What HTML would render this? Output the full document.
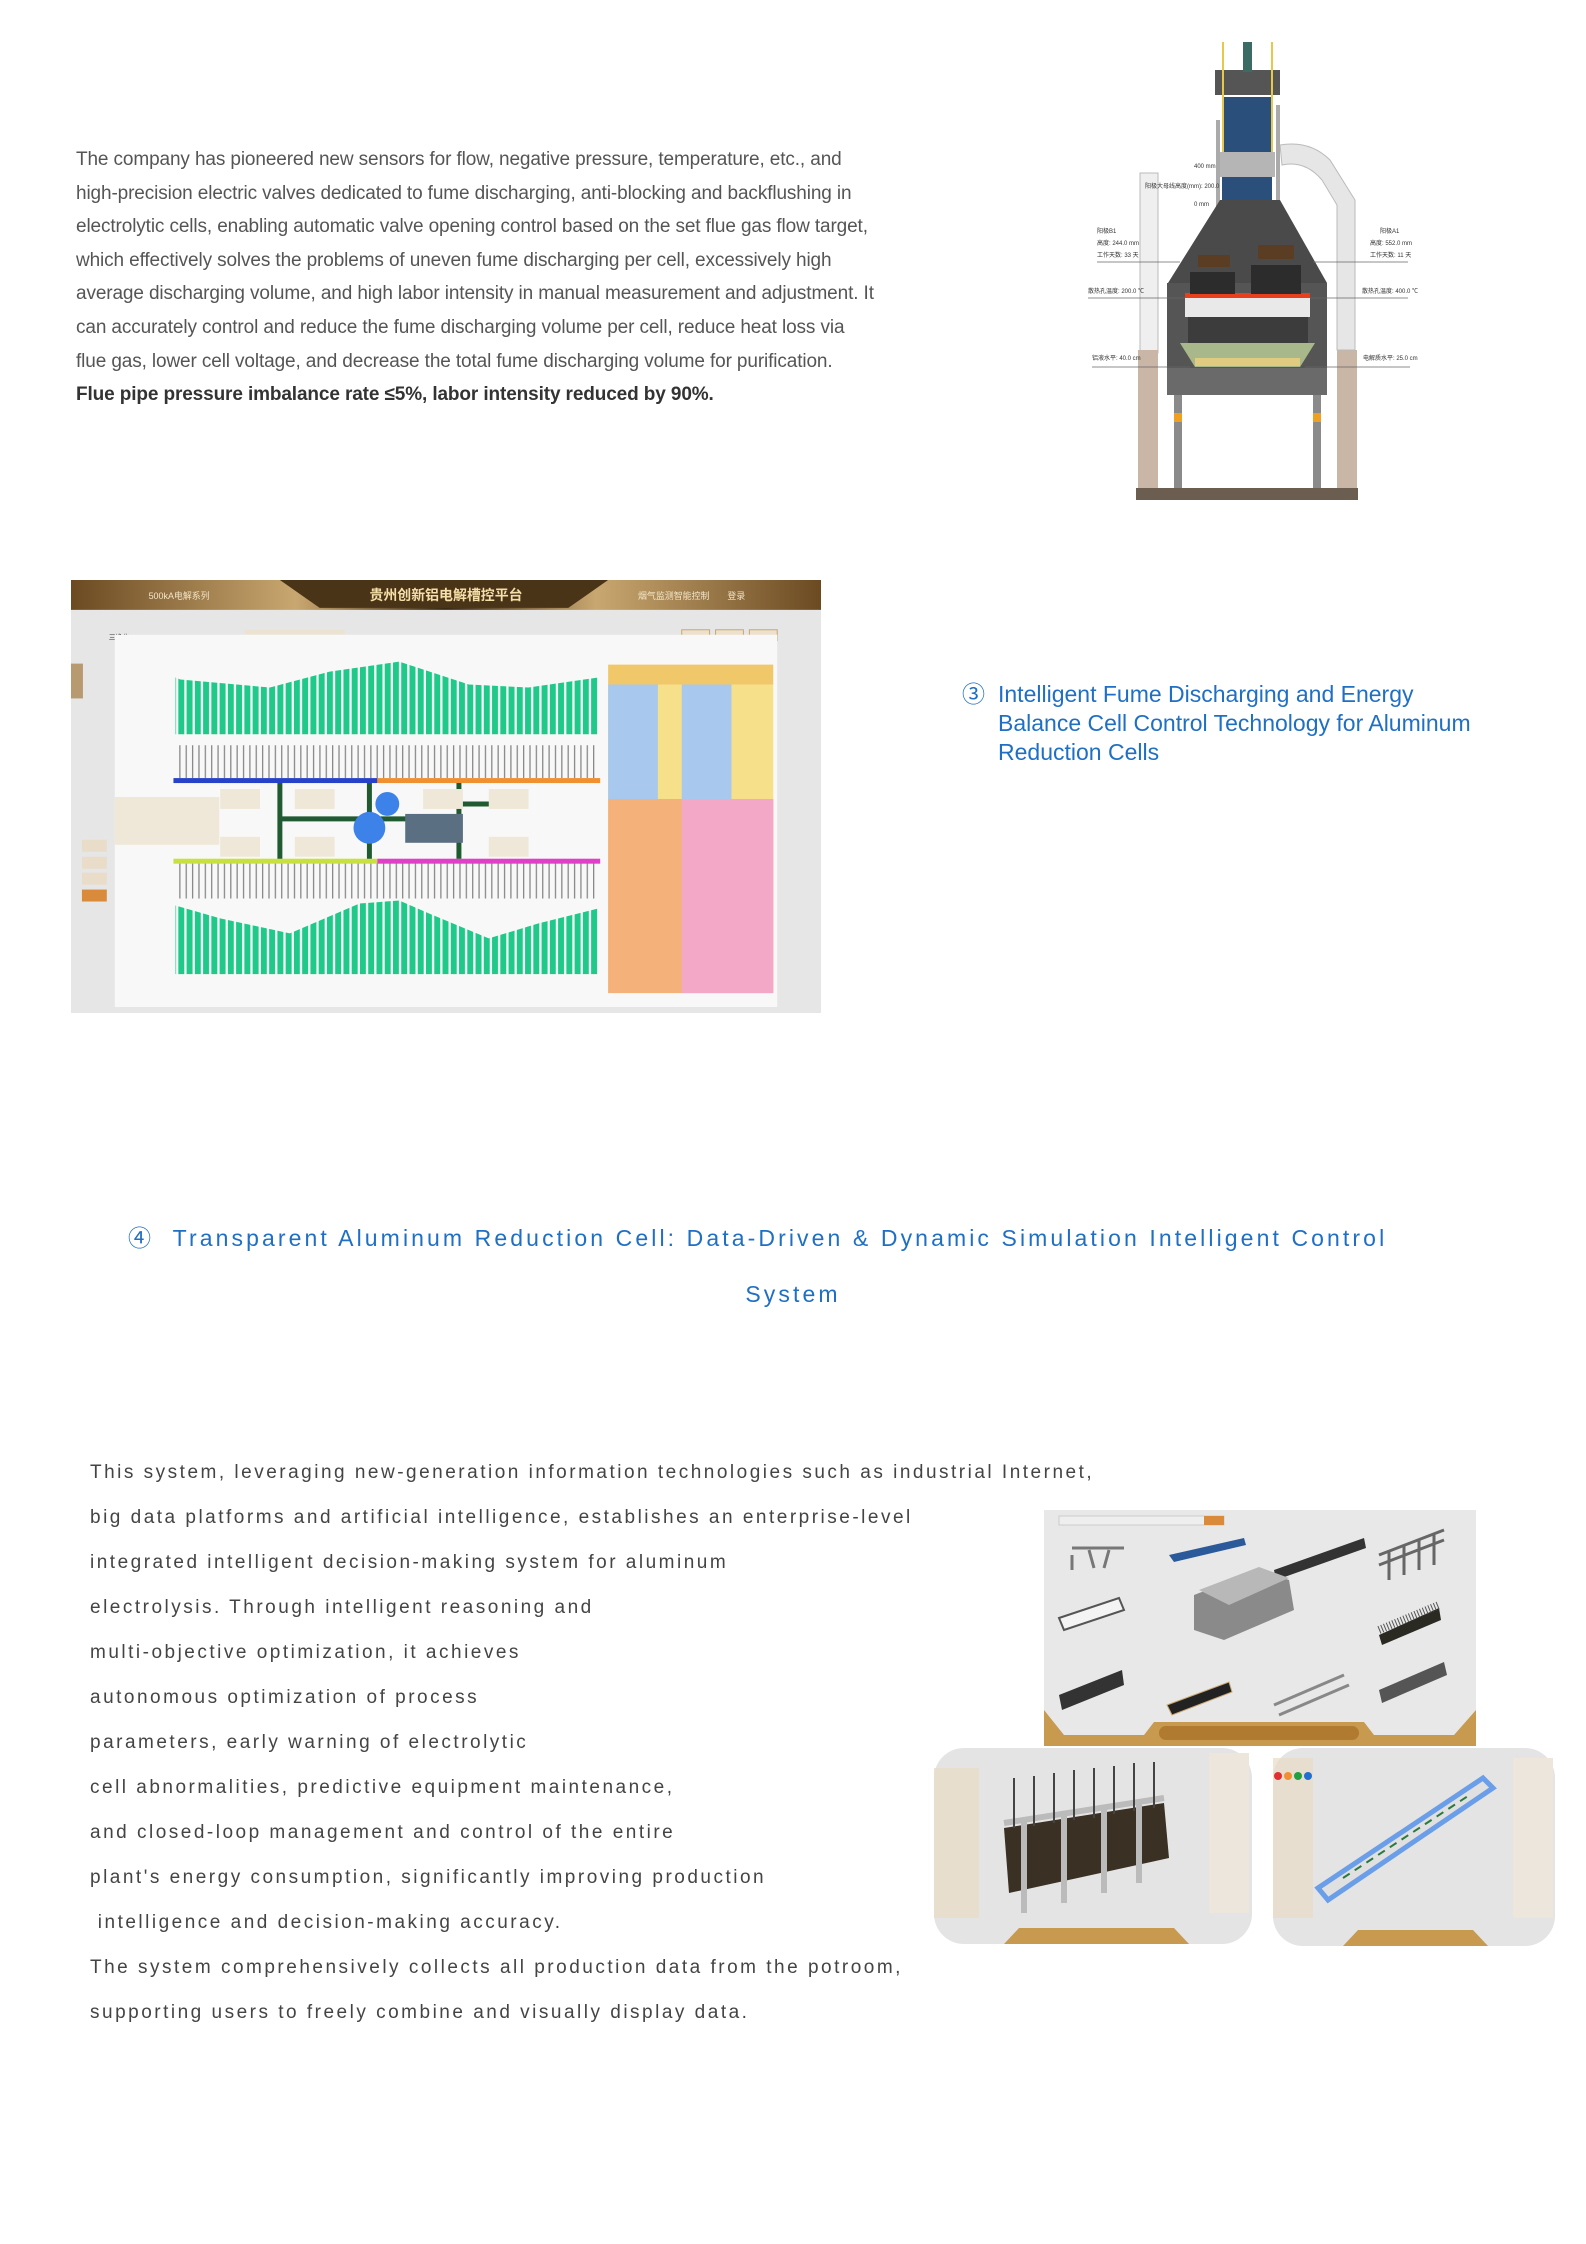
<!DOCTYPE html>
<html><head><meta charset="utf-8"><style>
html,body{margin:0;padding:0;background:#fff;}
body{width:1586px;height:2244px;position:relative;overflow:hidden;font-family:"Liberation Sans","Noto Sans CJK SC",sans-serif;}
.p1{position:absolute;left:76px;top:143px;width:830px;font-size:19px;line-height:33.6px;color:#555;white-space:nowrap;letter-spacing:-0.12px;}
.p1 b{color:#333;}
.h3{position:absolute;left:962px;top:680px;font-size:23px;line-height:29px;color:#1f6fc5;}
.h3 .c{position:absolute;left:0;top:0;}
.h3 .t{margin-left:36px;}
.h4{position:absolute;left:128px;top:1219px;font-size:23px;letter-spacing:3.1px;color:#1f6fc5;white-space:nowrap;}
.h4s{position:absolute;left:0;width:1586px;text-align:center;top:1281px;font-size:23px;letter-spacing:3.1px;color:#1f6fc5;}
.p2{position:absolute;left:90px;top:1450px;font-size:19px;line-height:45px;letter-spacing:2.5px;color:#444;white-space:nowrap;}
</style></head><body>

<div class="p1">The company has pioneered new sensors for flow, negative pressure, temperature, etc., and<br>high-precision electric valves dedicated to fume discharging, anti-blocking and backflushing in<br>electrolytic cells, enabling automatic valve opening control based on the set flue gas flow target,<br>which effectively solves the problems of uneven fume discharging per cell, excessively high<br>average discharging volume, and high labor intensity in manual measurement and adjustment. It<br>can accurately control and reduce the fume discharging volume per cell, reduce heat loss via<br>flue gas, lower cell voltage, and decrease the total fume discharging volume for purification.<br><b>Flue pipe pressure imbalance rate ≤5%, labor intensity reduced by 90%.</b></div>

<svg style="position:absolute;left:0;top:0" width="1586" height="520">
<rect x="1136" y="488" width="222" height="12" fill="#6b5d50"/>
<rect x="1140" y="173" width="18" height="180" fill="#efefef" stroke="#bbb"/>
<rect x="1138" y="350" width="20" height="138" fill="#c9b6a6"/>
<rect x="1337" y="350" width="20" height="138" fill="#c9b6a6"/>
<path d="M1280 145 Q1310 140 1330 160 L1355 200 L1355 350 L1337 350 L1337 205 L1322 180 Q1305 160 1282 165 Z" fill="#e6e6e6" stroke="#bbb"/>
<rect x="1215" y="70" width="65" height="25" fill="#555"/>
<rect x="1222" y="97" width="50" height="105" fill="#2a4f7a"/>
<rect x="1243" y="42" width="9" height="30" fill="#3c6b64"/>
<rect x="1222" y="42" width="2" height="120" fill="#e8c84a"/>
<rect x="1271" y="42" width="2" height="120" fill="#e8c84a"/>
<rect x="1216" y="120" width="4" height="160" fill="#aaa"/>
<rect x="1276" y="105" width="4" height="175" fill="#aaa"/>
<rect x="1220" y="152" width="55" height="25" fill="#b5b5b5"/>
<polygon points="1220,200 1280,200 1327,283 1168,283" fill="#4a4a4a"/>
<rect x="1167" y="283" width="160" height="112" fill="#555"/>
<rect x="1185" y="293" width="125" height="5" fill="#e8401c"/>
<rect x="1185" y="298" width="125" height="19" fill="#e9e9e9"/>
<rect x="1188" y="317" width="120" height="26" fill="#3c3c3c"/>
<polygon points="1180,343 1315,343 1300,367 1195,367" fill="#a9b88a"/>
<rect x="1195" y="358" width="105" height="8" fill="#e0cc80"/>
<rect x="1167" y="368" width="160" height="27" fill="#6a6a6a"/>
<rect x="1190" y="272" width="45" height="22" fill="#2c2c2c"/>
<rect x="1251" y="265" width="50" height="29" fill="#2c2c2c"/>
<rect x="1198" y="255" width="32" height="12" fill="#5a3d22"/>
<rect x="1258" y="245" width="36" height="14" fill="#5a3d22"/>
<rect x="1174" y="395" width="8" height="93" fill="#8a8a8a"/>
<rect x="1313" y="395" width="8" height="93" fill="#8a8a8a"/>
<rect x="1174" y="413" width="8" height="9" fill="#f0a020"/>
<rect x="1313" y="413" width="8" height="9" fill="#f0a020"/>
<g stroke="#666" stroke-width="0.8">
<line x1="1097" y1="262" x2="1180" y2="262"/><line x1="1313" y1="262" x2="1408" y2="262"/>
<line x1="1088" y1="298" x2="1185" y2="298"/><line x1="1310" y1="298" x2="1408" y2="298"/>
<line x1="1092" y1="367" x2="1190" y2="367"/><line x1="1305" y1="367" x2="1410" y2="367"/>
</g>
<g font-size="6" fill="#333">
<text x="1097" y="233">阳极B1</text><text x="1097" y="245">高度: 244.0 mm</text><text x="1097" y="257">工作天数: 33 天</text>
<text x="1380" y="233">阳极A1</text><text x="1370" y="245">高度: 552.0 mm</text><text x="1370" y="257">工作天数: 11 天</text>
<text x="1088" y="293">散热孔温度: 200.0 ℃</text><text x="1362" y="293">散热孔温度: 400.0 ℃</text>
<text x="1092" y="360">铝液水平: 40.0 cm</text><text x="1363" y="360">电解质水平: 25.0 cm</text>
<text x="1145" y="188">阳极大母线高度(mm): 200.0</text><text x="1194" y="168">400 mm</text><text x="1194" y="206">0 mm</text>
</g>
</svg>

<svg style="position:absolute;left:71px;top:580px" width="750" height="433" viewBox="0 0 754 435" preserveAspectRatio="none">
<defs>
<linearGradient id="gh" x1="0" x2="1"><stop offset="0" stop-color="#6b4a22"/><stop offset=".3" stop-color="#c9a770"/><stop offset=".5" stop-color="#3b2a14"/><stop offset=".7" stop-color="#c9a770"/><stop offset="1" stop-color="#6b4a22"/></linearGradient>
<pattern id="bars" width="8.3" height="10" patternUnits="userSpaceOnUse"><rect width="6" height="10" fill="#1ec98a"/></pattern>
<pattern id="vl" width="6.4" height="10" patternUnits="userSpaceOnUse"><rect width="1.3" height="10" fill="#888"/></pattern>
</defs>
<rect width="754" height="435" fill="#e6e6e6"/>
<rect width="754" height="30" fill="url(#gh)"/>
<path d="M210 0 L250 28 L500 28 L540 0 Z" fill="#4a3418"/>
<text x="377" y="20" font-size="14" fill="#f5dfa8" text-anchor="middle" font-weight="bold">贵州创新铝电解槽控平台</text>
<text x="78" y="19" font-size="9" fill="#f3e6c8">500kA电解系列</text>
<text x="570" y="19" font-size="9" fill="#f3e6c8">烟气监测智能控制　　登录</text>
<text x="38" y="60" font-size="7" fill="#333">三净化</text>
<rect x="175" y="50" width="100" height="9" fill="#ece2d2"/>
<rect x="614" y="50" width="28" height="11" fill="#ede0cc" stroke="#c9a770"/><rect x="648" y="50" width="28" height="11" fill="#ede0cc" stroke="#c9a770"/><rect x="682" y="50" width="28" height="11" fill="#ede0cc" stroke="#c9a770"/>
<rect x="44" y="55" width="666" height="374" fill="#f8f8f8"/>
<rect x="0" y="84" width="12" height="35" fill="#b89a70"/>
<rect x="11" y="261" width="25" height="12" fill="#e9dcc8"/><rect x="11" y="278" width="25" height="12" fill="#e9dcc8"/><rect x="11" y="294" width="25" height="12" fill="#e9dcc8"/><rect x="11" y="311" width="25" height="12" fill="#d98a3a"/>
<path d="M105 98 L110 100 L200 108 L260 92 L330 82 L400 105 L460 108 L530 98 L530 155 L105 155 Z" fill="url(#bars)"/>
<path d="M105 327 L150 340 L220 355 L290 325 L330 322 L360 335 L420 360 L470 345 L530 330 L530 396 L105 396 Z" fill="url(#bars)"/>
<rect x="105" y="166" width="425" height="33" fill="url(#vl)"/>
<rect x="105" y="284" width="425" height="36" fill="url(#vl)"/>
<rect x="103" y="199" width="205" height="5" fill="#2742c8"/><rect x="308" y="199" width="224" height="5" fill="#f09030"/>
<rect x="103" y="280" width="205" height="5" fill="#c8e040"/><rect x="308" y="280" width="224" height="5" fill="#e040c8"/>
<path d="M210 204 V280 M300 204 V280 M390 204 V280 M210 240 H390 M390 225 H440" stroke="#1f5a30" stroke-width="5" fill="none"/>
<circle cx="318" cy="225" r="12" fill="#3d82e8"/><circle cx="300" cy="249" r="16" fill="#3d82e8"/>
<rect x="336" y="235" width="58" height="29" fill="#5a7082"/>
<rect x="44" y="218" width="105" height="48" fill="#efe8d8"/>
<rect x="150" y="210" width="40" height="20" fill="#efe8d8"/><rect x="150" y="258" width="40" height="20" fill="#efe8d8"/>
<rect x="225" y="210" width="40" height="20" fill="#efe8d8"/><rect x="225" y="258" width="40" height="20" fill="#efe8d8"/>
<rect x="354" y="210" width="40" height="20" fill="#efe8d8"/><rect x="420" y="210" width="40" height="20" fill="#efe8d8"/><rect x="420" y="258" width="40" height="20" fill="#efe8d8"/>
<rect x="540" y="85" width="166" height="20" fill="#f0c86a"/>
<rect x="540" y="105" width="166" height="310" fill="#f6e08a"/>
<rect x="540" y="105" width="50" height="115" fill="#a8c8ee"/><rect x="614" y="105" width="50" height="115" fill="#a8c8ee"/>
<rect x="540" y="220" width="166" height="195" fill="#f4b27a"/>
<rect x="614" y="220" width="92" height="195" fill="#f4a8c8"/>
</svg>

<div class="h3"><span class="c">③</span><div class="t">Intelligent Fume Discharging and Energy<br>Balance Cell Control Technology for Aluminum<br>Reduction Cells</div></div>

<div class="h4">④&nbsp; Transparent Aluminum Reduction Cell: Data-Driven &amp; Dynamic Simulation Intelligent Control</div>
<div class="h4s">System</div>

<div class="p2">This system, leveraging new-generation information technologies such as industrial Internet,<br>big data platforms and artificial intelligence, establishes an enterprise-level<br>integrated intelligent decision-making system for aluminum<br>electrolysis. Through intelligent reasoning and<br>multi-objective optimization, it achieves<br>autonomous optimization of process<br>parameters, early warning of electrolytic<br>cell abnormalities, predictive equipment maintenance,<br>and closed-loop management and control of the entire<br>plant's energy consumption, significantly improving production<br>&nbsp;intelligence and decision-making accuracy.<br>The system comprehensively collects all production data from the potroom,<br>supporting users to freely combine and visually display data.</div>

<svg style="position:absolute;left:1044px;top:1510px" width="432" height="236" viewBox="0 0 432 236">
<rect width="432" height="236" fill="#e8e8e8"/>
<path d="M0 200 L20 225 L100 225 L110 212 L320 212 L330 225 L410 225 L432 200 L432 236 L0 236 Z" fill="#c79a4f"/>
<rect x="115" y="216" width="200" height="14" rx="7" fill="#b07a30"/>
<path d="M28 38 L80 38 M28 45 V60 M45 40 L50 58 M65 40 L60 58" stroke="#777" stroke-width="3"/>
<polygon points="125,45 200,28 202,35 130,52" fill="#2a5a9a"/>
<polygon points="230,60 320,28 322,38 232,70" fill="#333"/>
<path d="M335 45 L400 20 M335 55 L400 30 M345 40 V70 M360 35 V65 M375 30 V60 M390 25 V55" stroke="#666" stroke-width="3"/>
<polygon points="15,108 75,88 80,100 20,120" fill="#f4f4f4" stroke="#555" stroke-width="2"/>
<polygon points="150,85 215,60 245,70 250,100 180,130 150,120" fill="#8a8a8a"/>
<polygon points="155,80 215,57 245,68 185,95" fill="#b8b8b8"/>
<polygon points="335,125 395,98 397,110 338,135" fill="#2a2a22"/>
<path d="M335 120 L395 95" stroke="#555" stroke-width="8" stroke-dasharray="1 2"/>
<polygon points="15,185 78,160 80,175 18,200" fill="#333"/>
<polygon points="123,195 185,172 188,182 128,205" fill="#222" stroke="#c9a770"/>
<path d="M230 195 L300 165 M235 205 L305 175" stroke="#888" stroke-width="3"/>
<polygon points="335,180 400,152 403,165 338,193" fill="#555"/>
<rect x="15" y="6" width="165" height="9" fill="#eee" stroke="#ccc"/><rect x="160" y="6" width="20" height="9" fill="#d98a3a"/>
</svg>
<svg style="position:absolute;left:934px;top:1748px" width="318" height="196" viewBox="0 0 318 196">
<rect width="318" height="196" rx="30" fill="#e4e4e4"/>
<path d="M70 196 L85 180 L240 180 L255 196 Z" fill="#c79a4f"/>
<rect x="0" y="20" width="45" height="150" fill="#e9dcc8" opacity=".8"/>
<rect x="275" y="5" width="40" height="160" fill="#ece6dc"/>
<polygon points="70,80 230,55 235,110 75,145" fill="#3a3024"/>
<path d="M70 75 L230 50 M90 70 V165 M130 65 V155 M170 60 V145 M205 55 V135" stroke="#bbb" stroke-width="6" fill="none"/>
<path d="M80 80 V30 M100 78 V28 M120 75 V25 M140 72 V22 M160 70 V20 M180 66 V18 M200 63 V15 M220 60 V14" stroke="#444" stroke-width="2"/>
</svg>
<svg style="position:absolute;left:1273px;top:1748px" width="282" height="198" viewBox="0 0 282 198">
<rect width="282" height="198" rx="30" fill="#e4e4e4"/>
<path d="M70 198 L85 182 L200 182 L215 198 Z" fill="#c79a4f"/>
<rect x="0" y="10" width="40" height="160" fill="#e9dcc8" opacity=".7"/>
<rect x="240" y="10" width="40" height="160" fill="#ece6dc"/>
<circle cx="5" cy="28" r="4" fill="#e03030"/><circle cx="15" cy="28" r="4" fill="#f09030"/><circle cx="25" cy="28" r="4" fill="#20a040"/><circle cx="35" cy="28" r="4" fill="#2070d0"/>
<polygon points="45,140 210,30 220,40 55,152" fill="#e0e0e0" stroke="#6a9ee8" stroke-width="5"/>
<path d="M70 130 L195 48" stroke="#2a7a40" stroke-width="2" stroke-dasharray="8 6"/>
</svg>

</body></html>
